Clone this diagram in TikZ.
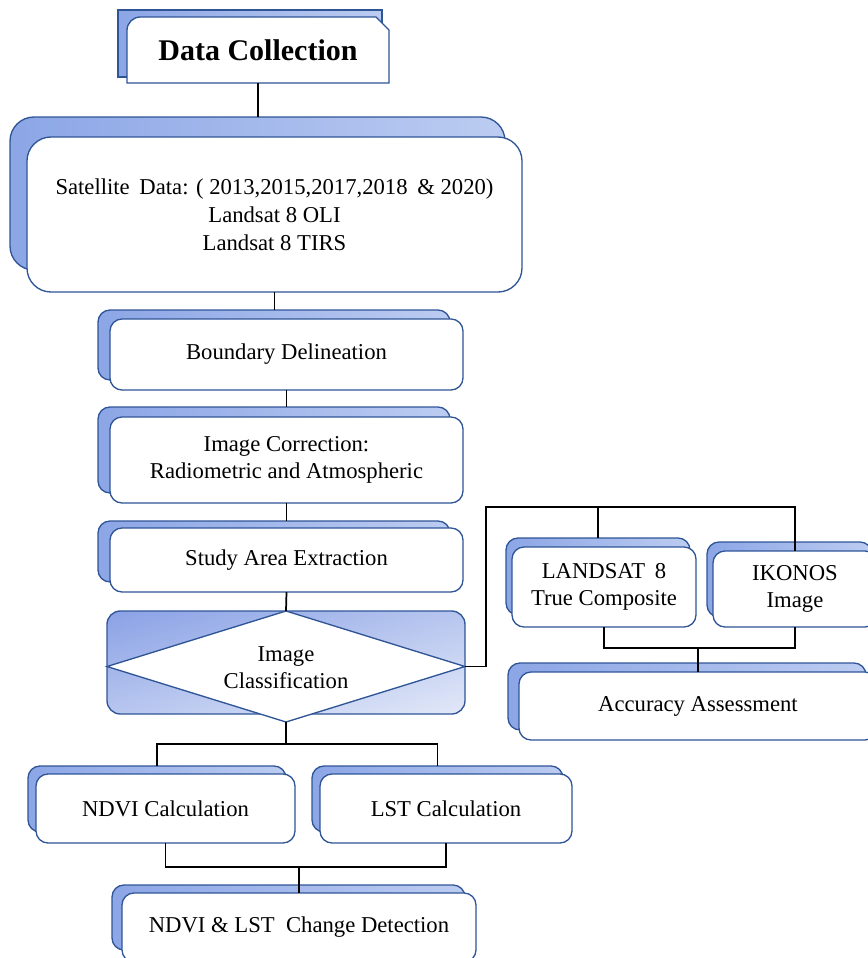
\documentclass[tikz,border=0pt]{standalone}
\usepackage{fontspec}
\setmainfont{Liberation Serif}
\usetikzlibrary{calc,shadings}
\definecolor{bord}{RGB}{47,85,151}
\definecolor{shA}{RGB}{140,166,230}
\definecolor{shB}{RGB}{188,204,241}
\definecolor{clA}{RGB}{138,161,229}
\definecolor{clM}{RGB}{183,198,239}
\definecolor{clB}{RGB}{226,232,248}
\newcommand\fs{\fontsize{17}{20.5}\selectfont}
\newcommand\bx[7]{\node[#6, minimum width={(#4-#2)*0.75pt}, minimum height={(#5-#3)*0.75pt}] (#1) at ({(#2+#4)/2},{(#3+#5)/2}) {#7};}
\tikzset{
  base/.style={rectangle, inner sep=0pt, outer sep=0pt, line width=1pt, draw=bord},
  backbox/.style={base, rounded corners=9pt, left color=shA, right color=shB},
  frontbox/.style={base, rounded corners=9pt, fill=white, align=center, font=\fs},
  bigback/.style={backbox, rounded corners=18pt},
  bigfront/.style={frontbox, rounded corners=18pt},
  conn/.style={draw=black, line width=1.3pt}
}
\begin{document}
\begin{tikzpicture}[x=0.75pt, y=-0.75pt]
\useasboundingbox (0,0) rectangle (868,958);
\clip (0,0) rectangle (868,958);
% Data Collection
\bx{dcb}{118}{10}{382}{77}{base, left color=shA, right color=shB}{}
\draw[line width=1pt, draw=bord, fill=white] (127,83) {[rounded corners=10pt] -- (127,17)} -- (376,17) -- (389,30) -- (389,83) -- cycle;
\bx{dc}{127}{17}{389}{83}{rectangle, inner sep=0pt, outer sep=0pt, font=\fontsize{22.5}{27}\selectfont\bfseries}{Data Collection}
% Satellite
\bx{satb}{10}{117}{505}{270}{bigback}{}
\bx{sat}{27}{137}{522}{292}{bigfront, font=\fontsize{17}{21}\selectfont}{Satellite\hspace{3pt} Data: ( 2013,2015,2017,2018\hspace{3pt} \& 2020)\\Landsat 8 OLI\\Landsat 8 TIRS}
% Boundary
\bx{bdb}{98}{310}{450}{380}{backbox}{}
\bx{bd}{110}{319}{463}{390}{frontbox}{Boundary Delineation}
% Image correction
\bx{icb}{98}{407}{450}{493}{backbox}{}
\bx{ic}{110}{417}{463}{503}{frontbox}{Image Correction:\\Radiometric and Atmospheric}
% Study area
\bx{sab}{98}{521}{450}{582}{backbox}{}
\bx{sa}{110}{528}{463}{592}{frontbox}{Study Area Extraction}
% Classification
\bx{cls}{107}{611}{465}{714}{base, rounded corners=10pt, upper left=clA, upper right=clM, lower left=clM, lower right=clB}{}
\coordinate (dN) at (286,611);
\coordinate (dE) at (465,666.5);
\coordinate (dS) at (286,722);
\coordinate (dW) at (107,666.5);
\draw[draw=bord, line width=1pt, fill=white] (dN) -- (dE) -- (dS) -- (dW) -- cycle;
\node[align=center, font=\fs, inner sep=0pt] (dia) at (286,668) {Image\\Classification};
% Landsat / Ikonos
\bx{lsb}{506}{538}{690}{615}{backbox}{}
\bx{ls}{512}{547}{696}{627}{frontbox}{LANDSAT\hspace{3pt} 8\\True Composite}
\bx{ikb}{707}{542}{872}{617}{backbox}{}
\bx{ik}{713}{551}{877}{627}{frontbox}{IKONOS\\Image}
% Accuracy
\bx{acb}{508}{663}{866}{730}{backbox}{}
\bx{ac}{519}{672}{877}{740}{frontbox}{Accuracy Assessment}
% NDVI / LST
\bx{ndb}{28}{766}{286}{832}{backbox}{}
\bx{nd}{36}{774}{295}{843}{frontbox}{NDVI Calculation}
\bx{lstb}{312}{766}{563}{832}{backbox}{}
\bx{lst}{320}{774}{572}{843}{frontbox}{LST Calculation}
% Change detection
\bx{cdb}{112}{885}{465}{950}{backbox}{}
\bx{cd}{122}{893}{476}{962}{frontbox}{NDVI \& LST\ \ Change Detection}
% connectors
\draw[conn] (dc.south) -- (dc.south |- satb.north);
\draw[conn] (sat.south) -- (sat.south |- bdb.north);
\draw[conn] (bd.south) -- (bd.south |- icb.north);
\draw[conn] (ic.south) -- (ic.south |- sab.north);
\draw[conn] (sa.south) -- (dN);
\coordinate (j1) at (486,507);
\draw[conn] (dE) -| (j1) -| (ik.north);
\draw[conn] (lsb.north |- j1) -- (lsb.north);
\coordinate (j2) at (0,648);
\draw[conn] (ls.south) |- (ik.south |- j2) -- (ik.south);
\draw[conn] (ac.north |- j2) -- (ac.north);
\coordinate (j3) at (0,744);
\draw[conn] (dS) -- (dS |- j3);
\draw[conn] (ndb.north) |- (lstb.north |- j3) -- (lstb.north);
\coordinate (j4) at (0,867);
\draw[conn] (nd.south) |- (lst.south |- j4) -- (lst.south);
\draw[conn] (cd.north |- j4) -- (cd.north);
\end{tikzpicture}
\end{document}
